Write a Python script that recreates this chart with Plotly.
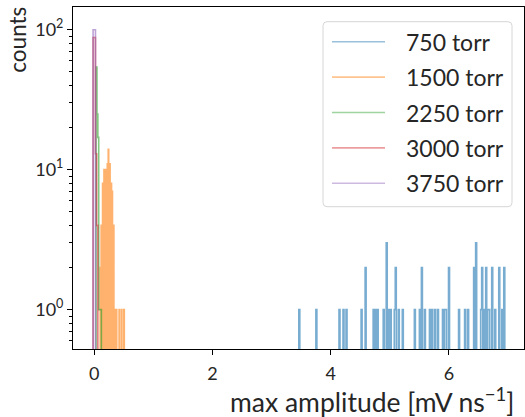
import numpy as np
import plotly.graph_objects as go

# ---- data (bin position, count) ----
blue_pos = [3.46, 3.75, 4.14, 4.20, 4.26, 4.52, 4.58, 4.72, 4.75, 4.78, 4.88, 4.94,
            4.98, 5.00, 5.07, 5.10, 5.14, 5.21, 5.42, 5.50, 5.54, 5.59, 5.67, 5.71,
            5.76, 5.81, 5.89, 5.92, 5.95, 5.99, 6.16, 6.26, 6.31, 6.41, 6.46, 6.53,
            6.56, 6.59, 6.63, 6.66, 6.68, 6.72, 6.77, 6.84, 6.90, 6.93]
blue_cnt = [1, 1, 1, 1, 1, 1, 2, 1, 1, 1, 1, 3,
            1, 1, 1, 2, 1, 1, 1, 1, 2, 1, 1, 1,
            1, 1, 1, 1, 1, 2, 1, 1, 1, 2, 3, 1,
            2, 1, 2, 1, 1, 2, 1, 2, 1, 2]

orange_pos = [0.10, 0.12, 0.14, 0.16, 0.18, 0.20, 0.22, 0.24, 0.26, 0.28, 0.30, 0.32,
              0.34, 0.37, 0.42, 0.46, 0.50]
orange_cnt = [2, 4, 8, 10, 7, 10, 11, 14, 11, 8, 7, 4,
              1, 1, 1, 1, 1]

green_pos = [0.030, 0.045, 0.060, 0.075, 0.090, 0.105]
green_cnt = [54, 25, 17, 1, 1, 1]

red_pos = [-0.020, 0.000, 0.020, 0.035]
red_cnt = [88, 88, 13, 4]

purple_pos = [-0.020, 0.000]
purple_cnt = [100, 100]

names = ["750 torr", "1500 torr", "2250 torr", "3000 torr", "3750 torr"]
colors = ["#1f77b4", "#ff7f0e", "#2ca02c", "#d62728", "#9467bd"]
positions = [blue_pos, orange_pos, green_pos, red_pos, purple_pos]
counts_l = [blue_cnt, orange_cnt, green_cnt, red_cnt, purple_cnt]
widths = [0.017, 0.008, 0.015, 0.02, 0.02]

FLOOR = 1e-3


def step_xy(pos, cnt, w):
    pos = np.asarray(pos, float)
    start = pos.min()
    idx = np.round((pos - start) / w).astype(int)
    n = idx.max() + 1
    counts = np.zeros(n)
    for i, c in zip(idx, cnt):
        counts[i] = max(counts[i], c)
    edges = start + np.arange(n + 1) * w
    y = np.where(counts > 0, counts, FLOOR)
    xs = [edges[0]] + list(edges)
    ys = [FLOOR] + list(y) + [FLOOR]
    return xs, ys


fig = go.Figure()
for name, pos, cnt, w, col in zip(names, positions, counts_l, widths, colors):
    xs, ys = step_xy(pos, cnt, w)
    fig.add_trace(go.Scatter(
        x=xs, y=ys, mode="lines", name=name, line_shape="hv",
        line=dict(color=col, width=1.6), opacity=0.6, showlegend=False,
    ))

FONT = "Lato"
TXT = "#262626"

# plot-area geometry in pixels (for legend placement)
L, R, T, B = 73, 524, 7.3, 349.3


def px(xp):
    return (xp - L) / (R - L)


def py(yp):
    return (B - yp) / (B - T)


shapes = []
annotations = []

# legend frame (rounded)
rr = 4
shapes.append(dict(
    type="path", xref="paper", yref="paper",
    path=(f"M {px(323 + rr)},{py(22)} L {px(512 - rr)},{py(22)} "
          f"Q {px(512)},{py(22)} {px(512)},{py(22 + rr)} "
          f"L {px(512)},{py(207 - rr)} Q {px(512)},{py(207)} {px(512 - rr)},{py(207)} "
          f"L {px(323 + rr)},{py(207)} Q {px(323)},{py(207)} {px(323)},{py(207 - rr)} "
          f"L {px(323)},{py(22 + rr)} Q {px(323)},{py(22)} {px(323 + rr)},{py(22)} Z"),
    line=dict(color="#d6d6d6", width=1), fillcolor="rgba(255,255,255,0.8)",
    layer="above",
))
for k, (name, col) in enumerate(zip(names, colors)):
    yc = 42 + k * 35.4
    shapes.append(dict(
        type="line", xref="paper", yref="paper",
        x0=px(332), x1=px(385), y0=py(yc), y1=py(yc),
        line=dict(color=col, width=1.6), opacity=0.45, layer="above",
    ))
    annotations.append(dict(
        text=name, xref="paper", yref="paper", x=px(404), y=py(yc),
        xanchor="left", yanchor="middle", showarrow=False,
        font=dict(size=23, family=FONT, color=TXT),
    ))

annotations.append(dict(
    text="max amplitude [mV ns<sup>−1</sup>]", xref="paper", yref="paper",
    x=px(516), y=py(401), xanchor="right", yanchor="middle",
    showarrow=False, font=dict(size=26.5, family=FONT, color=TXT)))
annotations.append(dict(
    text="counts", xref="paper", yref="paper",
    x=px(18), y=py(5), xanchor="center", yanchor="top", textangle=-90,
    showarrow=False, font=dict(size=22.5, family=FONT, color=TXT)))

fig.update_layout(
    width=525, height=417,
    margin=dict(l=73, r=1, t=7, b=68),
    plot_bgcolor="white", paper_bgcolor="white",
    font=dict(family=FONT, color=TXT, size=17),
    showlegend=False,
    shapes=shapes,
    annotations=annotations,
    xaxis=dict(
        range=[-0.36, 7.27],
        tickvals=[0, 2, 4, 6], ticktext=["0", "2", "4", "6"],
        ticks="outside", ticklen=5, tickwidth=1, tickcolor="black",
        showline=True, linecolor="black", linewidth=1, mirror=True,
        showgrid=False, zeroline=False,
        tickfont=dict(size=18), ticklabelstandoff=3,
    ),
    yaxis=dict(
        type="log", range=[-0.281, 2.162],
        tickvals=[1, 10, 100],
        ticktext=["10<sup>0</sup>", "10<sup>1</sup>", "10<sup>2</sup>"],
        ticks="outside", ticklen=5, tickwidth=1, tickcolor="black",
        showline=True, linecolor="black", linewidth=1, mirror=True,
        showgrid=False, zeroline=False,
        tickfont=dict(size=18),
        minor=dict(
            tickmode="array",
            tickvals=[0.6, 0.7, 0.8, 0.9, 2, 3, 4, 5, 6, 7, 8, 9,
                      20, 30, 40, 50, 60, 70, 80, 90],
            ticks="outside", ticklen=3, tickwidth=0.8, tickcolor="black",
            showgrid=False,
        ),
    ),
)

fig.write_html("out.html")
